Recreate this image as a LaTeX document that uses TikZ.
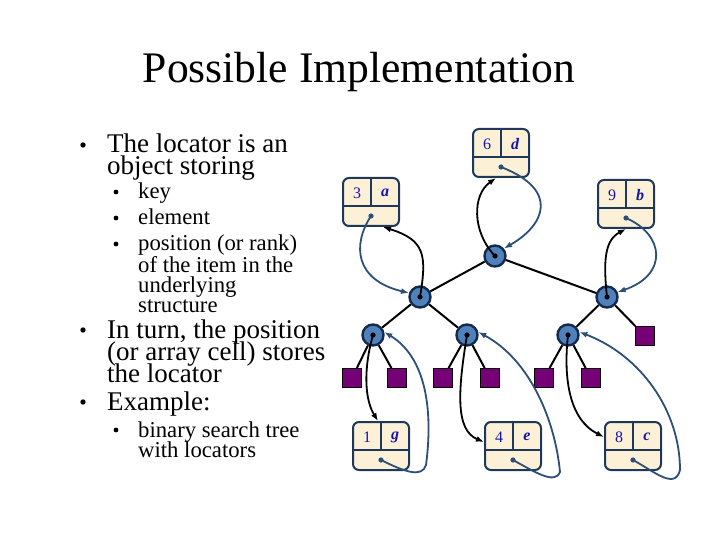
\documentclass[tikz,border=0pt]{standalone}
\usepackage{fontspec}
\setmainfont{Liberation Serif}
\usetikzlibrary{backgrounds,arrows.meta}
\definecolor{posfill}{RGB}{79,129,189}
\definecolor{posline}{RGB}{22,42,75}
\definecolor{locfill}{RGB}{252,241,215}
\definecolor{locline}{RGB}{31,56,90}
\definecolor{ptrblue}{RGB}{44,78,120}
\definecolor{leaffill}{RGB}{118,0,118}
\definecolor{keyblue}{RGB}{20,20,170}
% one locator: name, left, top, key, element
\newcommand\locator[5]{%
  \node[locbox] (#1) at (#2+28,#3+24) {};
  \draw[locline,line width=2pt] (#2,#3+28) -- (#2+56,#3+28);
  \draw[locline,line width=2pt] (#2+28,#3) -- (#2+28,#3+28);
  \node[keytext] (#1k) at (#2+14,#3+15) {#4};
  \node[keytext,font=\fontsize{16}{16}\selectfont\bfseries\itshape] (#1e) at (#2+42,#3+15) {#5};
  \coordinate (#1p) at (#2+28,#3+38);
  \fill[ptrblue] (#1p) circle (2.6pt);
}
\begin{document}
\begin{tikzpicture}[x=1pt,y=-1pt,>={Latex[length=8pt,width=6pt]},
  posnode/.style={circle,draw=posline,line width=2.4pt,fill=posfill,minimum size=21pt,inner sep=0pt},
  leaf/.style={rectangle,draw=black,line width=1pt,fill=leaffill,minimum size=19pt,inner sep=0pt},
  locbox/.style={rectangle,rounded corners=6pt,draw=locline,line width=2pt,fill=locfill,minimum width=56pt,minimum height=48pt,inner sep=0pt},
  keytext/.style={inner sep=0pt,text=keyblue,font=\fontsize{16}{16}\selectfont},
  edge/.style={line width=2pt},
  blackptr/.style={->,line width=1.8pt},
  blueptr/.style={->,ptrblue,line width=1.8pt},
  txt/.style={anchor=base west,inner sep=0pt,font=\fontsize{27}{27}\selectfont},
  subtxt/.style={anchor=base west,inner sep=0pt,font=\fontsize{22.7}{22.7}\selectfont}]
\useasboundingbox (0,0) rectangle (720,540);

\node[anchor=base,inner sep=0pt,font=\fontsize{43.6}{43.6}\selectfont] (title) at (359,83) {Possible Implementation};

% bullets
\foreach \y/\t in {153/The locator is an, 175/object storing, 338/{In turn, the position}, 360/{(or array cell) stores}, 382/the locator, 410/Example:}
  \node[txt] (m\y) at (107,\y) {\t};
\foreach \y/\t in {199/key, 225/element, 251/{position (or rank)}, 272/of the item in the, 292/underlying, 312/structure, 437/binary search tree, 457/with locators}
  \node[subtxt] (s\y) at (138,\y) {\t};
\foreach \y in {145,330,402} \fill (83,\y) circle (2.7pt);
\foreach \y in {192,218,244,430} \fill (116,\y) circle (2.4pt);

% locators
\locator{L6}{473}{129}{6}{d}
\locator{L3}{343}{178}{3}{a}
\locator{L9}{598}{180}{9}{b}
\locator{L1}{353}{422}{1}{g}
\locator{L4}{485}{422}{4}{e}
\locator{L8}{605}{422}{8}{c}

% tree
\node[posnode] (p6) at (495,256) {};
\node[posnode] (p3) at (420,297) {};
\node[posnode] (p9) at (607,297) {};
\node[posnode] (p1) at (373,335) {};
\node[posnode] (p4) at (467,335) {};
\node[posnode] (p8) at (568,335) {};
\node[leaf] (e1) at (352,378) {};
\node[leaf] (e2) at (397,378) {};
\node[leaf] (e3) at (443,378) {};
\node[leaf] (e4) at (490,378) {};
\node[leaf] (e5) at (544,378) {};
\node[leaf] (e6) at (591,378) {};
\node[leaf] (e7) at (645,336) {};
\begin{scope}[on background layer]
  \draw[edge] (p6) -- (p3) (p6) -- (p9) (p3) -- (p1) (p3) -- (p4) (p9) -- (p8) (p9) -- (e7);
  \draw[edge] (p1) -- (e1) (p1) -- (e2) (p4) -- (e3) (p4) -- (e4) (p8) -- (e5) (p8) -- (e6);
\end{scope}

% position -> locator
\draw[blackptr] (p6.center) .. controls (472,232) and (472,195) .. ([xshift=-5pt]L6.south);
\draw[blackptr] (p3.center) .. controls (427,255) and (425,240) .. ([xshift=12pt]L3.south);
\draw[blackptr] (p9.center) .. controls (603,260) and (605,240) .. (L9.south);
\draw[blackptr] (p1.center) .. controls (363,370) and (365,400) .. ([xshift=-3pt]L1.north);
\draw[blackptr] (p4.center) .. controls (458,390) and (455,430) .. ([yshift=4pt]L4.west);
\draw[blackptr] (p8.center) .. controls (563,380) and (570,420) .. ([yshift=9pt]L8.west);

% locator -> position
\draw[blueptr] (L6p) .. controls (560,190) and (545,225) .. (p6.40);
\draw[blueptr] (L3p) .. controls (352,245) and (355,280) .. (p3.160);
\draw[blueptr] (L9p) .. controls (665,235) and (668,275) .. (p9.25);
\draw[blueptr] (L1p) .. controls (405,472) and (422,478) .. (426,465) .. controls (432,420) and (430,360) .. (p1.15);
\draw[blueptr] (L4p) .. controls (535,472) and (555,485) .. (560,472) .. controls (555,420) and (530,360) .. (p4.15);
\draw[blueptr] (L8p) .. controls (655,472) and (675,490) .. (680,470) .. controls (680,410) and (640,355) .. (p8.15);

\foreach \n in {p6,p3,p9,p1,p4,p8} \fill (\n) circle (2.6pt);
\end{tikzpicture}
\end{document}
